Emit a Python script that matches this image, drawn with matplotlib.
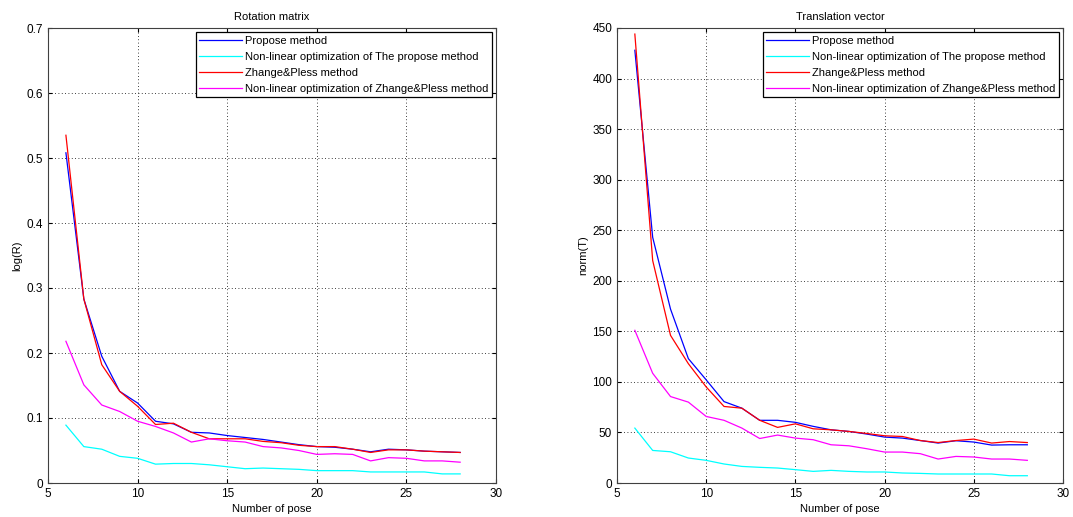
import numpy as np
import matplotlib
matplotlib.use('Agg')
import matplotlib.pyplot as plt
from matplotlib.ticker import FormatStrFormatter

plt.rcParams['font.family'] = ['Liberation Sans', 'DejaVu Sans']

poses = list(range(6, 29))

# rotation error log(R)
rot_propose = [0.508, 0.283, 0.195, 0.141, 0.123, 0.095, 0.091, 0.078, 0.077, 0.073, 0.070,
               0.067, 0.063, 0.059, 0.056, 0.055, 0.052, 0.048, 0.052, 0.051, 0.049, 0.048, 0.047]
rot_propose_nl = [0.089, 0.056, 0.052, 0.041, 0.038, 0.029, 0.030, 0.030, 0.028, 0.025, 0.022,
                  0.023, 0.022, 0.021, 0.019, 0.019, 0.019, 0.017, 0.017, 0.017, 0.017, 0.014, 0.014]
rot_zp = [0.535, 0.283, 0.182, 0.141, 0.118, 0.090, 0.092, 0.078, 0.068, 0.068, 0.068,
          0.064, 0.062, 0.058, 0.056, 0.056, 0.052, 0.047, 0.051, 0.051, 0.049, 0.048, 0.047]
rot_zp_nl = [0.218, 0.151, 0.120, 0.110, 0.095, 0.087, 0.077, 0.063, 0.068, 0.065, 0.063,
             0.056, 0.054, 0.050, 0.044, 0.045, 0.044, 0.034, 0.039, 0.038, 0.034, 0.034, 0.032]

# translation error norm(T)
tr_propose = [428, 243, 172, 123, 102, 80.5, 74, 62, 62, 60, 56, 52.6, 51, 48.4, 45.4,
              44.4, 42, 39.5, 41.8, 40.5, 37.5, 37.8, 37.8]
tr_propose_nl = [54.3, 32.2, 30.9, 24.7, 22.4, 18.8, 16.4, 15.5, 14.8, 13.2, 11.5, 12.5,
                 11.5, 10.9, 10.9, 9.9, 9.5, 8.9, 8.9, 8.9, 8.9, 7.2, 7.2]
tr_zp = [444, 220, 146, 118, 95, 75.7, 74, 62, 55, 58.5, 53.6, 52.6, 51, 49, 46.7,
         46, 42, 40, 42, 43.4, 39.5, 41, 40]
tr_zp_nl = [151, 108.5, 85.5, 80, 65.8, 62, 54.3, 44, 47.4, 44.4, 42.8, 37.8, 36.8,
            33.9, 30.6, 30.6, 29, 23.7, 26.3, 25.7, 23.7, 23.7, 22.4]

labels = ['Propose method', 'Non-linear optimization of The propose method',
          'Zhange&Pless method', 'Non-linear optimization of Zhange&Pless method']
colors = ['#0000ff', '#00ffff', '#ff0000', '#ff00ff']

fig = plt.figure(figsize=(10.73, 5.17), dpi=100)
ax1 = fig.add_axes([48 / 1073, 1 - 483 / 517, 448 / 1073, 455 / 517])
ax2 = fig.add_axes([617 / 1073, 1 - 483 / 517, 446 / 1073, 455 / 517])


def draw(ax, series, title, ylabel, ymax, ystep, fmt):
    for s, c, lab in zip(series, colors, labels):
        ax.plot(poses, s, color=c, lw=0.9, label=lab)
    ax.set_xlim(5, 30)
    ax.set_ylim(0, ymax)
    ax.set_xticks(np.arange(5, 31, 5))
    ax.set_yticks(np.arange(0, ymax + ystep / 2, ystep))
    ax.yaxis.set_major_formatter(FormatStrFormatter(fmt))
    ax.grid(True, linestyle=(0, (1, 3)), color='black', lw=0.6)
    ax.tick_params(direction='in', labelsize=8.5, length=3, top=True, right=True)
    for sp in ax.spines.values():
        sp.set_color('#404040')
        sp.set_linewidth(0.8)
    ax.set_title(title, fontsize=8, pad=6)
    ax.set_xlabel('Number of pose', fontsize=8, labelpad=3)
    ax.set_ylabel(ylabel, fontsize=8, labelpad=3)
    leg = ax.legend(loc='upper right', fontsize=8, fancybox=False, framealpha=1,
                    borderaxespad=0.4, handlelength=3.8, handletextpad=0.3,
                    labelspacing=0.55, borderpad=0.3)
    leg.get_frame().set_edgecolor('black')
    leg.get_frame().set_linewidth(0.9)


draw(ax1, [rot_propose, rot_propose_nl, rot_zp, rot_zp_nl],
     'Rotation matrix', 'log(R)', 0.7, 0.1, '%g')
draw(ax2, [tr_propose, tr_propose_nl, tr_zp, tr_zp_nl],
     'Translation vector', 'norm(T)', 450, 50, '%g')

fig.savefig('out.png', dpi=100)
